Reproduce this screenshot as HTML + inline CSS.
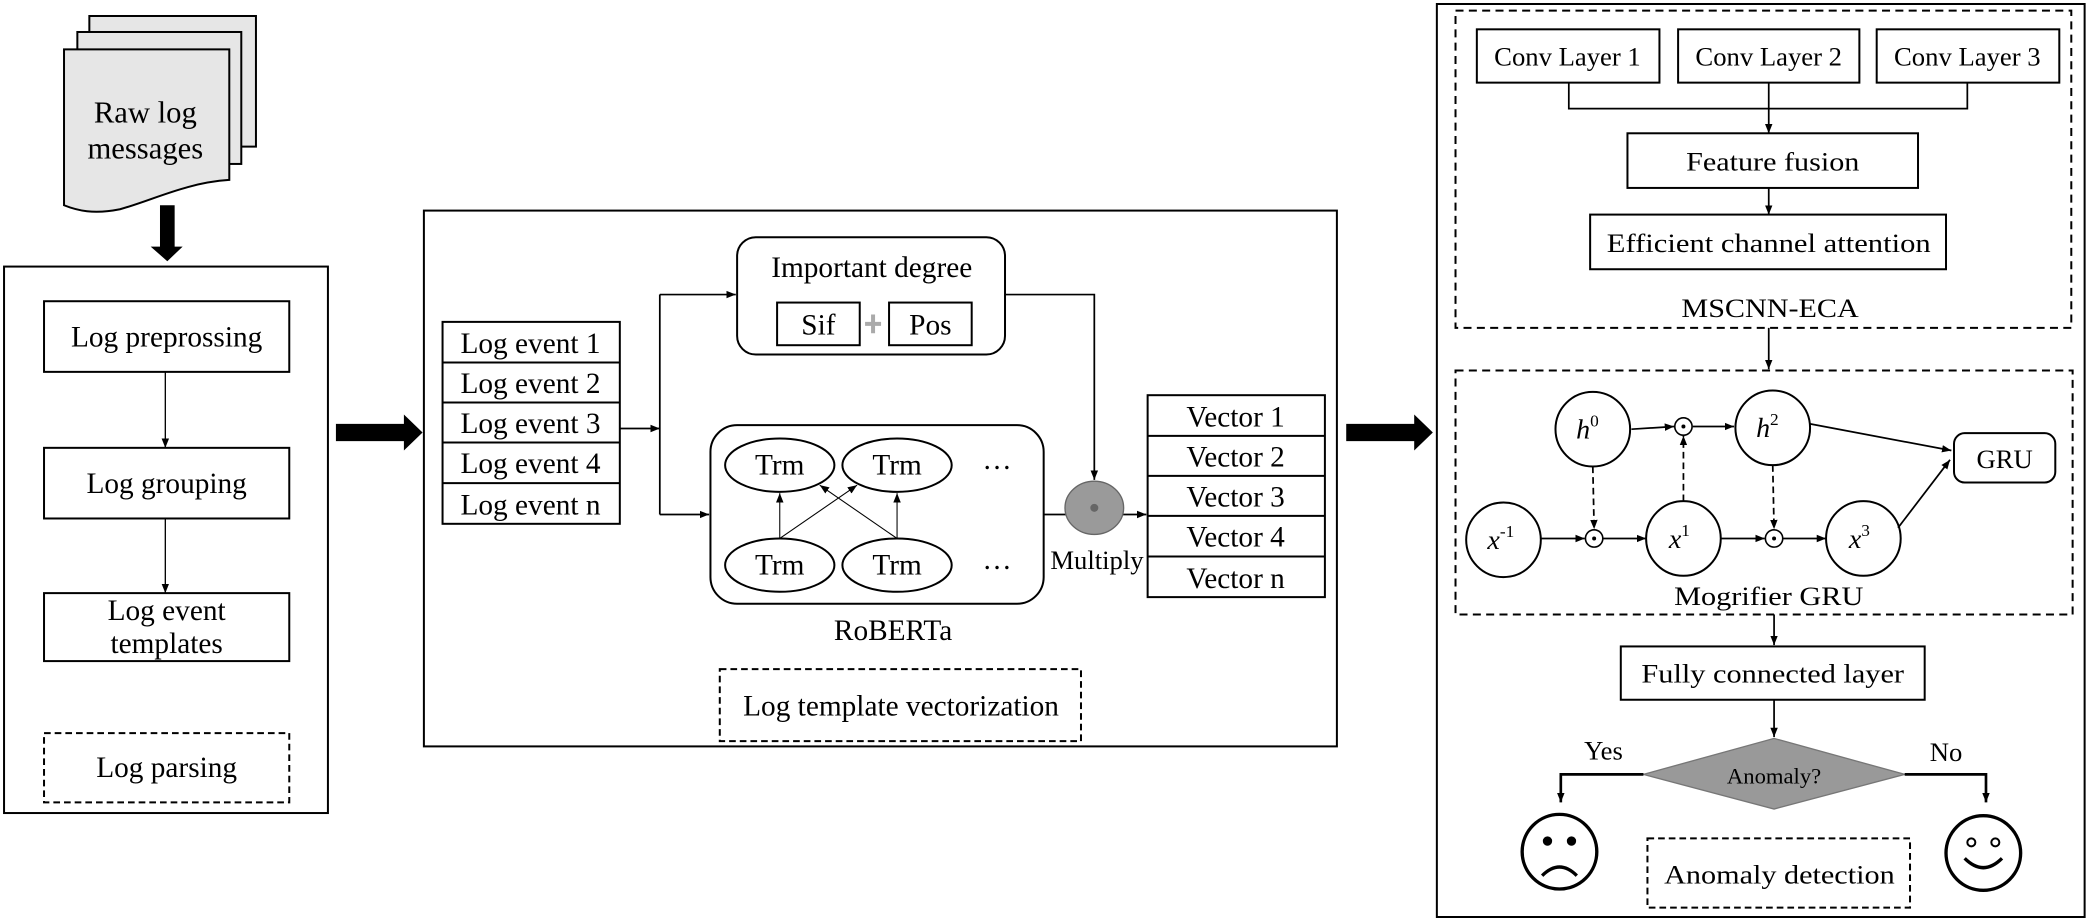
<!DOCTYPE html>
<html><head><meta charset="utf-8"><style>html,body{margin:0;padding:0;background:#fff}svg{display:block}svg text{font-family:"Liberation Serif","Times New Roman",serif}</style></head>
<body>
<svg width="2090" height="921" viewBox="0 0 1568 691" xmlns="http://www.w3.org/2000/svg" font-family="'Liberation Serif', serif" fill="none" stroke="#000">
<defs>
<marker id="a" viewBox="0 0 10 10" refX="10" refY="5" markerWidth="7" markerHeight="7" orient="auto" markerUnits="userSpaceOnUse"><path d="M0,1 L10,5 L0,9 z" fill="#000" stroke="none"/></marker>
</defs>
<!-- doc stack -->
<g stroke-width="1.5" fill="#e6e6e6">
<rect x="67" y="12" width="125" height="98"/>
<rect x="58" y="24" width="123" height="99"/>
<path d="M48,37 H172 V135 C140,137 115,150 90,157 C70,161 58,158 48,154 Z"/>
</g>
<g fill="#000" stroke="none" font-size="23" text-anchor="middle">
<text x="109" y="92">Raw log</text><text x="109" y="119">messages</text>
</g>
<path d="M120,154 H131 V185 H137 L125.5,196 L113,185 H120 Z" fill="#000" stroke="none"/>
<!-- left box -->
<rect x="3" y="200" width="243" height="410" stroke-width="1.5"/>
<g stroke-width="1.5">
<rect x="33" y="226" width="184" height="53"/>
<rect x="33" y="336" width="184" height="53"/>
<rect x="33" y="445" width="184" height="51"/>
<rect x="33" y="550" width="184" height="52" stroke-dasharray="5,3"/>
</g>
<g stroke-width="1">
<line x1="124" y1="279" x2="124" y2="336" marker-end="url(#a)"/>
<line x1="124" y1="389" x2="124" y2="445" marker-end="url(#a)"/>
</g>
<g fill="#000" stroke="none" font-size="22" text-anchor="middle">
<text x="125" y="260">Log preprossing</text>
<text x="125" y="370">Log grouping</text>
<text x="125" y="465">Log event</text>
<text x="125" y="490">templates</text>
<text x="125" y="583">Log parsing</text>
</g>
<path d="M252,318 H303 V311 L317,324.5 L303,338 V331 H252 Z" fill="#000" stroke="none"/>
<!-- middle box -->
<rect x="318" y="158" width="685" height="402" stroke-width="1.5"/>
<g stroke-width="1.5">
<rect x="332" y="241.5" width="133" height="151.5"/>
<line x1="332" y1="272" x2="465" y2="272"/><line x1="332" y1="302" x2="465" y2="302"/>
<line x1="332" y1="332" x2="465" y2="332"/><line x1="332" y1="362.5" x2="465" y2="362.5"/>
<rect x="861" y="296.5" width="133" height="151.5"/>
<line x1="861" y1="327" x2="994" y2="327"/><line x1="861" y1="357" x2="994" y2="357"/>
<line x1="861" y1="387" x2="994" y2="387"/><line x1="861" y1="417.5" x2="994" y2="417.5"/>
<rect x="553" y="178" width="201" height="88" rx="14"/>
<rect x="583" y="227" width="62" height="32"/>
<rect x="667" y="227" width="62" height="32"/>
<rect x="533" y="319" width="250" height="134" rx="20"/>
<ellipse cx="585" cy="349" rx="41" ry="20"/><ellipse cx="673" cy="349" rx="41" ry="20"/>
<ellipse cx="585" cy="424" rx="41" ry="20"/><ellipse cx="673" cy="424" rx="41" ry="20"/>
<rect x="540" y="502" width="271" height="54" stroke-dasharray="5,3"/>
</g>
<path d="M655,236 V250 M649,243 H661" stroke="#aaa" stroke-width="3"/>
<g stroke-width="1.3">
<line x1="465" y1="321.5" x2="495" y2="321.5" marker-end="url(#a)"/>
<path d="M495,221 V386"/>
<line x1="495" y1="221" x2="552" y2="221" marker-end="url(#a)"/>
<line x1="495" y1="386" x2="532" y2="386" marker-end="url(#a)"/>
<path d="M754,221 H821 V360" marker-end="url(#a)"/>
<line x1="783" y1="386" x2="800" y2="386"/>
<line x1="842" y1="386" x2="860" y2="386" marker-end="url(#a)"/>
</g>
<g stroke-width="0.8">
<line x1="585" y1="404" x2="585" y2="370" marker-end="url(#a)"/>
<line x1="673" y1="404" x2="673" y2="370" marker-end="url(#a)"/>
<line x1="585" y1="404" x2="643" y2="364" marker-end="url(#a)"/>
<line x1="673" y1="404" x2="615" y2="364" marker-end="url(#a)"/>
</g>
<ellipse cx="821" cy="381" rx="22" ry="20" fill="#9a9a9a" stroke="#666"/>
<circle cx="821" cy="381" r="3" fill="#666" stroke="none"/>
<g fill="#000" stroke="none" font-size="22" text-anchor="middle">
<text x="398" y="265">Log event 1</text><text x="398" y="295">Log event 2</text>
<text x="398" y="325">Log event 3</text><text x="398" y="355">Log event 4</text>
<text x="398" y="386">Log event n</text>
<text x="927" y="320">Vector 1</text><text x="927" y="350">Vector 2</text>
<text x="927" y="380">Vector 3</text><text x="927" y="410">Vector 4</text>
<text x="927" y="441">Vector n</text>
<text x="654" y="208">Important degree</text>
<text x="614" y="251">Sif</text><text x="698" y="251">Pos</text>
<text x="585" y="356">Trm</text><text x="673" y="356">Trm</text>
<text x="585" y="431">Trm</text><text x="673" y="431">Trm</text>
<text x="748" y="352">…</text><text x="748" y="427">…</text>
<text x="823" y="427" font-size="20">Multiply</text>
<text x="670" y="480">RoBERTa</text>
<text x="676" y="537">Log template vectorization</text>
</g>
<path d="M1010,318 H1061 V311 L1075,324.5 L1061,338 V331 H1010 Z" fill="#000" stroke="none"/>
<!-- right box -->
<rect x="1078" y="3" width="486" height="685" stroke-width="1.5"/>
<g stroke-width="1.5">
<rect x="1092" y="8" width="462" height="238" stroke-dasharray="6,4"/>
<rect x="1092" y="278" width="463" height="183" stroke-dasharray="6,4"/>
<rect x="1108" y="22" width="137" height="40"/>
<rect x="1259" y="22" width="136" height="40"/>
<rect x="1408" y="22" width="137" height="40"/>
<rect x="1221" y="100" width="218" height="41"/>
<rect x="1193" y="161" width="267" height="41"/>
<rect x="1466" y="325" width="76" height="37" rx="8"/>
<rect x="1216" y="485" width="228" height="40"/>
<rect x="1236" y="629" width="197" height="52" stroke-dasharray="5,3"/>
<circle cx="1195" cy="322" r="28"/><circle cx="1330" cy="321" r="28"/>
<circle cx="1128" cy="405" r="28"/><circle cx="1263" cy="404" r="28"/><circle cx="1398" cy="404" r="28"/>
</g>
<g stroke-width="1.2">
<circle cx="1263" cy="320" r="6.5"/><circle cx="1196" cy="404" r="6.5"/><circle cx="1331" cy="404" r="6.5"/>
</g>
<g fill="#000" stroke="none"><circle cx="1263" cy="320" r="1.5"/><circle cx="1196" cy="404" r="1.5"/><circle cx="1331" cy="404" r="1.5"/></g>
<g stroke-width="1.3">
<path d="M1177,62 V81.5 H1476 V62"/>
<line x1="1327" y1="62" x2="1327" y2="100" marker-end="url(#a)"/>
<line x1="1327" y1="141" x2="1327" y2="161" marker-end="url(#a)"/>
<line x1="1327" y1="246" x2="1327" y2="277" marker-end="url(#a)"/>
<line x1="1224" y1="322" x2="1256" y2="320" marker-end="url(#a)"/>
<line x1="1270" y1="320" x2="1301" y2="320" marker-end="url(#a)"/>
<line x1="1358" y1="318" x2="1464" y2="338" marker-end="url(#a)"/>
<line x1="1424" y1="396" x2="1463" y2="345" marker-end="url(#a)"/>
<line x1="1156" y1="404" x2="1189" y2="404" marker-end="url(#a)"/>
<line x1="1203" y1="404" x2="1235" y2="404" marker-end="url(#a)"/>
<line x1="1291" y1="404" x2="1324" y2="404" marker-end="url(#a)"/>
<line x1="1338" y1="404" x2="1370" y2="404" marker-end="url(#a)"/>
<line x1="1331" y1="461" x2="1331" y2="484" marker-end="url(#a)"/>
<line x1="1331" y1="525" x2="1331" y2="553" marker-end="url(#a)"/>
<g stroke-dasharray="5,3">
<line x1="1195" y1="350" x2="1196" y2="397" marker-end="url(#a)"/>
<line x1="1263" y1="376" x2="1263" y2="327" marker-end="url(#a)"/>
<line x1="1330" y1="349" x2="1331" y2="397" marker-end="url(#a)"/>
</g>
</g>
<polygon points="1233,581 1331,554 1429,581 1331,607" fill="#999" stroke="#777" stroke-width="1"/>
<g stroke-width="2">
<path d="M1233,581 H1171 V602" marker-end="url(#a)"/>
<path d="M1429,581 H1490 V602" marker-end="url(#a)"/>
<circle cx="1170" cy="639" r="28" stroke-width="2.5"/>
<circle cx="1488" cy="640" r="28" stroke-width="2.5"/>
<path d="M1157,657 Q1170,644 1183,657" stroke-width="2.5"/>
<path d="M1474,644 Q1488,658 1502,644" stroke-width="2.5"/>
</g>
<g fill="#000" stroke="none">
<circle cx="1161" cy="631" r="3.5"/><circle cx="1179" cy="631" r="3.5"/>
</g>
<circle cx="1479" cy="632" r="3" stroke-width="1.5"/><circle cx="1497" cy="632" r="3" stroke-width="1.5"/>
<g fill="#000" stroke="none" font-size="20" text-anchor="middle">
<text x="1176" y="49" textLength="110" lengthAdjust="spacingAndGlyphs">Conv Layer 1</text><text x="1327" y="49" textLength="110" lengthAdjust="spacingAndGlyphs">Conv Layer 2</text><text x="1476" y="49" textLength="110" lengthAdjust="spacingAndGlyphs">Conv Layer 3</text>
<text x="1330" y="128" textLength="130" lengthAdjust="spacingAndGlyphs">Feature fusion</text>
<text x="1327" y="189" textLength="243" lengthAdjust="spacingAndGlyphs">Efficient channel attention</text>
<text x="1328" y="238" textLength="133" lengthAdjust="spacingAndGlyphs">MSCNN-ECA</text>
<text x="1504" y="351">GRU</text>
<text x="1327" y="454" textLength="142" lengthAdjust="spacingAndGlyphs">Mogrifier GRU</text>
<text x="1330" y="512" textLength="197" lengthAdjust="spacingAndGlyphs">Fully connected layer</text>
<text x="1331" y="588" font-size="17">Anomaly?</text>
<text x="1203" y="570">Yes</text><text x="1460" y="571">No</text>
<text x="1335" y="663" textLength="173" lengthAdjust="spacingAndGlyphs">Anomaly detection</text>
<g font-style="italic" font-size="21">
<text x="1191" y="329">h<tspan font-size="13" dy="-9" font-style="normal">0</tspan></text>
<text x="1326" y="328">h<tspan font-size="13" dy="-9" font-style="normal">2</tspan></text>
<text x="1126" y="412">x<tspan font-size="13" dy="-9" font-style="normal">-1</tspan></text>
<text x="1260" y="411">x<tspan font-size="13" dy="-9" font-style="normal">1</tspan></text>
<text x="1395" y="411">x<tspan font-size="13" dy="-9" font-style="normal">3</tspan></text>
</g>
</g>
</svg>
</body></html>
